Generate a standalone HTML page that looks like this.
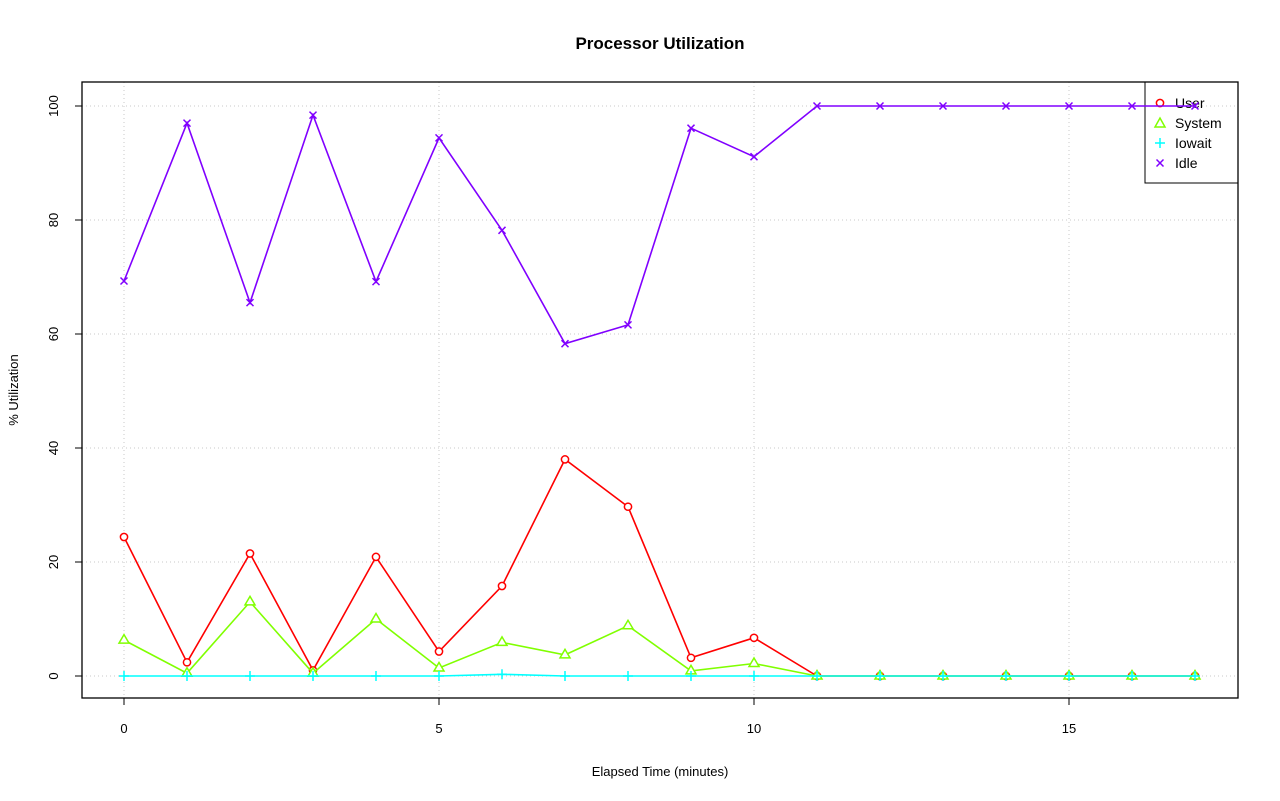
<!DOCTYPE html>
<html><head><meta charset="utf-8"><style>body{margin:0;background:#fff}svg{display:block}text{font-family:"Liberation Sans",sans-serif}</style></head><body>
<svg width="1280" height="801" xmlns="http://www.w3.org/2000/svg">
<defs>
<marker id="mo" markerUnits="userSpaceOnUse" markerWidth="12" markerHeight="12" refX="6" refY="6" overflow="visible"><circle cx="6" cy="6" r="3.6" fill="#fff" stroke="#f00" stroke-width="1.5"/></marker>
<marker id="mt" markerUnits="userSpaceOnUse" markerWidth="12" markerHeight="12" refX="6" refY="6" overflow="visible"><path d="M1,9 L11,9 L6,0.5 Z" fill="#fff" stroke="#80ff00" stroke-width="1.5"/></marker>
<marker id="mp" markerUnits="userSpaceOnUse" markerWidth="12" markerHeight="12" refX="6" refY="6" overflow="visible"><path d="M1,6 h10 M6,1 v10" stroke="#00ffff" stroke-width="1.5"/></marker>
<marker id="mx" markerUnits="userSpaceOnUse" markerWidth="12" markerHeight="12" refX="6" refY="6" overflow="visible"><path d="M2.5,2.5 l7,7 M9.5,2.5 l-7,7" stroke="#8000ff" stroke-width="1.5"/></marker>
</defs>
<text x="660" y="49" text-anchor="middle" font-size="17" font-weight="bold">Processor Utilization</text>
<g stroke="#c8c8c8" stroke-dasharray="1,3" stroke-width="1">
<line x1="124" y1="82" x2="124" y2="698"/><line x1="439" y1="82" x2="439" y2="698"/><line x1="754" y1="82" x2="754" y2="698"/><line x1="1069" y1="82" x2="1069" y2="698"/>
<line x1="82" y1="676" x2="1238" y2="676"/><line x1="82" y1="562" x2="1238" y2="562"/><line x1="82" y1="448" x2="1238" y2="448"/><line x1="82" y1="334" x2="1238" y2="334"/><line x1="82" y1="220" x2="1238" y2="220"/><line x1="82" y1="106" x2="1238" y2="106"/>
</g>
<rect x="82" y="82" width="1156" height="616" fill="none" stroke="#000" stroke-width="1.3"/>
<g stroke="#000"><line x1="124" y1="698" x2="124" y2="705"/><line x1="439" y1="698" x2="439" y2="705"/><line x1="754" y1="698" x2="754" y2="705"/><line x1="1069" y1="698" x2="1069" y2="705"/>
<line x1="82" y1="676" x2="75" y2="676"/><line x1="82" y1="562" x2="75" y2="562"/><line x1="82" y1="448" x2="75" y2="448"/><line x1="82" y1="334" x2="75" y2="334"/><line x1="82" y1="220" x2="75" y2="220"/><line x1="82" y1="106" x2="75" y2="106"/></g>
<g font-size="13" text-anchor="middle"><text x="124" y="733">0</text><text x="439" y="733">5</text><text x="754" y="733">10</text><text x="1069" y="733">15</text>
<g transform="rotate(-90)"><text x="-676" y="58">0</text><text x="-562" y="58">20</text><text x="-448" y="58">40</text><text x="-334" y="58">60</text><text x="-220" y="58">80</text><text x="-106" y="58">100</text><text x="-390" y="18">% Utilization</text></g>
<text x="660" y="776">Elapsed Time (minutes)</text></g>
<rect x="1145" y="82" width="93" height="101" fill="none" stroke="#000"/>
<g font-size="14"><text x="1175" y="108">User</text><text x="1175" y="128">System</text><text x="1175" y="148">Iowait</text><text x="1175" y="168">Idle</text></g>
<circle cx="1160" cy="103" r="3.6" fill="none" stroke="#f00" stroke-width="1.5"/>
<path d="M1155,127 L1165,127 L1160,118 Z" fill="none" stroke="#80ff00" stroke-width="1.5"/>
<path d="M1155,143 h10 M1160,138 v10" stroke="#00ffff" stroke-width="1.5"/>
<path d="M1156.5,159.5 l7,7 M1163.5,159.5 l-7,7" stroke="#8000ff" stroke-width="1.5"/>
<g fill="none" stroke-width="1.6">
<polyline stroke="#8000ff" marker-start="url(#mx)" marker-mid="url(#mx)" marker-end="url(#mx)" points="124,281 187,123.1 250,302.6 313,115.1 376,281.6 439,137.9 502,230.3 565,343.7 628,324.9 691,128.2 754,156.7 817,106 880,106 943,106 1006,106 1069,106 1132,106 1195,106"/>
<polyline stroke="#ff0000" marker-start="url(#mo)" marker-mid="url(#mo)" marker-end="url(#mo)" points="124,537 187,662.3 250,553.5 313,670.3 376,556.9 439,651.5 502,586 565,459.4 628,506.7 691,657.8 754,637.8 817,676 880,676 943,676 1006,676 1069,676 1132,676 1195,676"/>
<polyline stroke="#80ff00" marker-start="url(#mt)" marker-mid="url(#mt)" marker-end="url(#mt)" points="124,640.1 187,673.2 250,601.9 313,673.2 376,619 439,668 502,642.4 565,654.9 628,625.8 691,670.9 754,663.5 817,676 880,676 943,676 1006,676 1069,676 1132,676 1195,676"/>
<polyline stroke="#00ffff" marker-start="url(#mp)" marker-mid="url(#mp)" marker-end="url(#mp)" points="124,676 187,676 250,676 313,676 376,676 439,676 502,674.3 565,676 628,676 691,676 754,676 817,676 880,676 943,676 1006,676 1069,676 1132,676 1195,676"/>
</g>
</svg></body></html>
